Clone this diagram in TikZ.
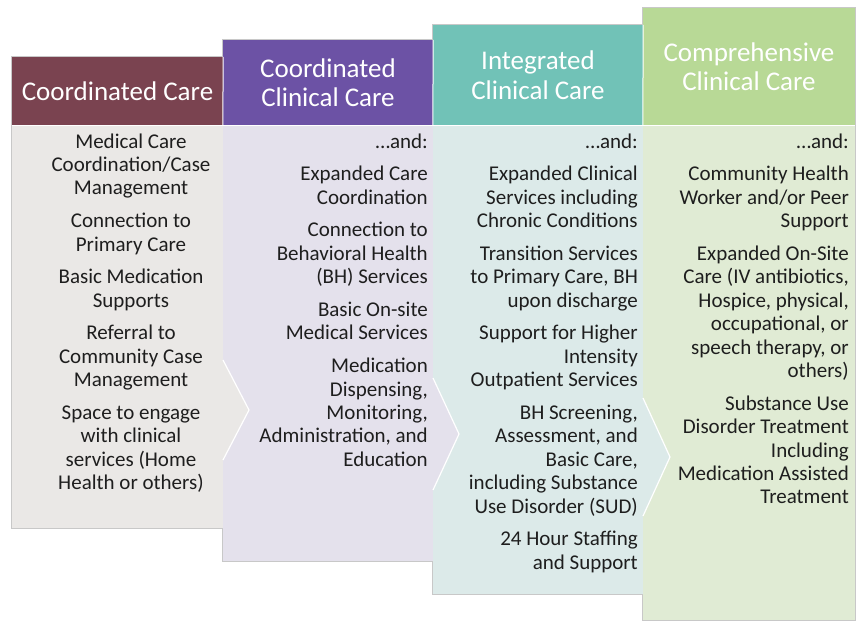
\documentclass[tikz,border=0pt]{standalone}
\usepackage{fontspec}
\setmainfont{Carlito}
\definecolor{hdA}{HTML}{7A4350}
\definecolor{hdB}{HTML}{6C52A5}
\definecolor{hdC}{HTML}{71C2B7}
\definecolor{hdD}{HTML}{B8D996}
\definecolor{bdA}{HTML}{EAE8E6}
\definecolor{bdB}{HTML}{E4E1EC}
\definecolor{bdC}{HTML}{DCEAE9}
\definecolor{bdD}{HTML}{E0EBD4}
\definecolor{rim}{HTML}{C8C8C8}
\definecolor{ink}{HTML}{1E1E1E}
\newcommand\itemgap{\\[9.3pt]}
\begin{document}
\begin{tikzpicture}[x=1pt,y=-1pt,
  head/.style={fill=#1, text=white, inner sep=0pt, align=center,
    font=\fontsize{27}{29.5}\selectfont},
  itemtext/.style={inner sep=0pt, text=ink, font=\fontsize{21}{23.42}\selectfont},
  sep/.style={draw=white, line width=1pt},
  chev/.style={fill=#1, draw=white, line width=1.2pt, line join=miter}]
\useasboundingbox (0,0) rectangle (858,622);

% outer rims of the four columns
\begin{scope}[draw=rim, line width=2pt]
  \draw (12,57) rectangle (223,528);
  \draw (223,40) rectangle (433,561);
  \draw (433,25) rectangle (643,594);
  \draw (643,8) rectangle (855,620);
\end{scope}

% column bodies
\fill[bdA] (12,125) rectangle (223,528);
\fill[bdB] (223,125) rectangle (433,561);
\fill[bdC] (433,125) rectangle (643,594);
\fill[bdD] (643,125) rectangle (855,620);

% chevrons pointing into the next column
\filldraw[chev=bdA] (223,360) -- (249,410) -- (223,460);
\filldraw[chev=bdB] (433,378) -- (459,434) -- (433,490);
\filldraw[chev=bdC] (643,398) -- (670,457) -- (643,516);

% headers
\node[head=hdA, minimum width=211pt, minimum height=68pt] (hA) at (117.5,91) {Coordinated Care};
\node[head=hdB, minimum width=210pt, minimum height=85pt] (hB) at (328,82.5) {Coordinated\\Clinical Care};
\node[head=hdC, minimum width=210pt, minimum height=100pt] (hC) at (538,75) {Integrated\\Clinical Care};
\node[head=hdD, minimum width=212pt, minimum height=117pt] (hD) at (749,66.5) {Comprehensive\\Clinical Care};

% thin white seams
\draw[sep] (hA.south west) -- (hA.south east);
\draw[sep] (hB.south west) -- (hB.south east);
\draw[sep] (hC.south west) -- (hC.south east);
\draw[sep] (hD.south west) -- (hD.south east);
\draw[sep] (hB.south west) -- (hA.north east);
\draw[sep] (hC.south west) -- (hB.north east);
\draw[sep] (hD.south west) -- (hC.north east);

% column contents
\node[itemtext, align=center, anchor=north] (tA) at (131,131.5)
  {\strut Medical Care\\Coordination/Case\\Management\itemgap
   Connection to\\Primary Care\itemgap
   Basic Medication\\Supports\itemgap
   Referral to\\Community Case\\Management\itemgap
   Space to engage\\with clinical\\services (Home\\Health or others)};

\node[itemtext, align=right, anchor=north east] (tB) at (428,131.5)
  {\strut …and:\itemgap
   Expanded Care\\Coordination\itemgap
   Connection to\\Behavioral Health\\(BH) Services\itemgap
   Basic On-site\\Medical Services\itemgap
   Medication\\Dispensing,\\Monitoring,\\Administration, and\\Education};

\node[itemtext, align=right, anchor=north east] (tC) at (638,131.5)
  {\strut …and:\itemgap
   Expanded Clinical\\Services including\\Chronic Conditions\itemgap
   Transition Services\\to Primary Care, BH\\upon discharge\itemgap
   Support for Higher\\Intensity\\Outpatient Services\itemgap
   BH Screening,\\Assessment, and\\Basic Care,\\including Substance\\Use Disorder (SUD)\itemgap
   24 Hour Staffing\\and Support};

\node[itemtext, align=right, anchor=north east] (tD) at (849,131.5)
  {\strut …and:\itemgap
   Community Health\\Worker and/or Peer\\Support\itemgap
   Expanded On-Site\\Care (IV antibiotics,\\Hospice, physical,\\occupational, or\\speech therapy, or\\others)\itemgap
   Substance Use\\Disorder Treatment\\Including\\Medication Assisted\\Treatment};
\end{tikzpicture}
\end{document}
